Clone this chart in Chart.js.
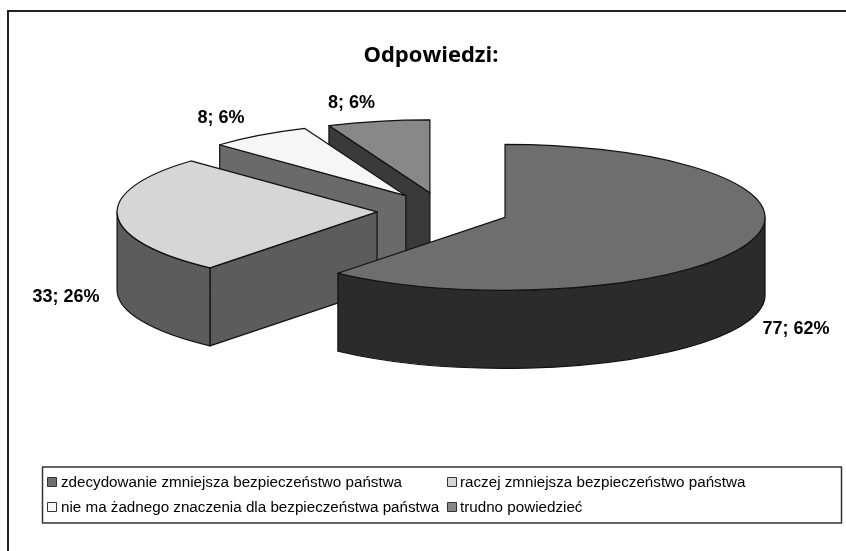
<html>

<head>
    <meta charset="utf-8">
    <script src="https://cdn.jsdelivr.net/npm/chart.js"></script>
    <title>Odpowiedzi</title>
    <style>
        body { margin: 0; background: #fff; }
        canvas { display: block; }
    </style>
</head>

<body>
    <canvas id="myChart" width="846" height="551"></canvas>
    <script>
        // dane
        const categories = [
            'zdecydowanie zmniejsza bezpieczeństwo państwa',
            'raczej zmniejsza bezpieczeństwo państwa',
            'nie ma żadnego znaczenia dla bezpieczeństwa państwa',
            'trudno powiedzieć'
        ];
        const counts = [77, 33, 8, 8];
        const percents = [62, 26, 6, 6];
        const chartTitle = 'Odpowiedzi:';

        const topColors = ['#6e6e6e', '#d6d6d6', '#f6f6f6', '#888888'];
        const sideColors = ['#2b2b2b', '#5c5c5c', '#6a6a6a', '#3a3a3a'];

        const FONT = '"Liberation Sans", Arial, sans-serif';

        // widok 3D: srodek kola, splaszczenie, grubosc i rozsuniecie wycinkow
        const view = { cx: 443, cy: 211, squash: 73 / 260, depth: 78, explode: 66 };
        const labelSpots = [[796, 329], [66, 297], [221, 118], [351.5, 103]];

        function slicePos(el) {
            const mid = (el.startAngle + el.endAngle) / 2;
            return {
                x: view.cx + Math.cos(mid) * view.explode,
                y: view.cy + Math.sin(mid) * view.explode * view.squash
            };
        }

        function paintFace(ctx, fill, build) {
            ctx.beginPath();
            build();
            ctx.closePath();
            ctx.fillStyle = fill;
            ctx.fill();
            ctx.lineWidth = 1.2;
            ctx.strokeStyle = '#111';
            ctx.lineJoin = 'round';
            ctx.stroke();
        }

        function radialFace(ctx, pos, r, angle, fill) {
            const ex = pos.x + Math.cos(angle) * r;
            const ey = pos.y + Math.sin(angle) * r * view.squash;
            paintFace(ctx, fill, () => {
                ctx.moveTo(pos.x, pos.y);
                ctx.lineTo(ex, ey);
                ctx.lineTo(ex, ey + view.depth);
                ctx.lineTo(pos.x, pos.y + view.depth);
            });
        }

        const pie3d = {
            id: 'pie3d',
            beforeDatasetsDraw(chart) {
                const ctx = chart.ctx;
                const arcs = chart.getDatasetMeta(0).data;
                // od tylu do przodu, zeby przednie wycinki przykryly tylne
                for (let i = arcs.length - 1; i >= 0; i--) {
                    const el = arcs[i];
                    const pos = slicePos(el);
                    const r = el.outerRadius;

                    if (Math.cos(el.startAngle) < -0.001) radialFace(ctx, pos, r, el.startAngle, sideColors[i]);
                    if (Math.cos(el.endAngle) > 0.001) radialFace(ctx, pos, r, el.endAngle, sideColors[i]);

                    const a0 = Math.max(el.startAngle, 0);
                    const a1 = Math.min(el.endAngle, Math.PI);
                    if (a1 > a0) {
                        paintFace(ctx, sideColors[i], () => {
                            ctx.ellipse(pos.x, pos.y, r, r * view.squash, 0, a0, a1);
                            ctx.ellipse(pos.x, pos.y + view.depth, r, r * view.squash, 0, a1, a0, true);
                        });
                    }

                    // gorna sciana: sam element Chart.js, tylko w przeksztalconym ukladzie
                    ctx.save();
                    ctx.translate(pos.x, pos.y);
                    ctx.scale(1, view.squash);
                    ctx.translate(-el.x, -el.y);
                    el.draw(ctx);
                    ctx.restore();

                    ctx.beginPath();
                    ctx.moveTo(pos.x, pos.y);
                    ctx.ellipse(pos.x, pos.y, r, r * view.squash, 0, el.startAngle, el.endAngle);
                    ctx.closePath();
                    ctx.lineWidth = 1.2;
                    ctx.strokeStyle = '#111';
                    ctx.lineJoin = 'round';
                    ctx.stroke();
                }
                return false;
            },
            afterDraw(chart) {
                const ctx = chart.ctx;
                ctx.save();

                // ramka: tylko gora i lewa strona
                ctx.fillStyle = '#222';
                ctx.fillRect(7, 10, 839, 2);
                ctx.fillRect(7, 10, 2, 541);

                // etykiety danych
                ctx.fillStyle = '#000';
                ctx.font = 'bold 18px ' + FONT;
                ctx.textAlign = 'center';
                ctx.textBaseline = 'middle';
                counts.forEach((c, i) => {
                    ctx.fillText(c + '; ' + percents[i] + '%', labelSpots[i][0], labelSpots[i][1]);
                });

                // legenda w ramce, dwie kolumny
                ctx.lineWidth = 1.5;
                ctx.strokeStyle = '#333';
                ctx.strokeRect(42.5, 467, 799, 56);
                ctx.font = '15.2px ' + FONT;
                ctx.textAlign = 'left';
                categories.forEach((name, i) => {
                    const x = i % 2 === 0 ? 47 : 447;
                    const y = i < 2 ? 483 : 508;
                    ctx.fillStyle = topColors[i];
                    ctx.strokeStyle = '#333';
                    ctx.lineWidth = 1;
                    ctx.fillRect(x + 0.5, y - 5.5, 9, 9);
                    ctx.strokeRect(x + 0.5, y - 5.5, 9, 9);
                    ctx.fillStyle = '#000';
                    ctx.fillText(name, i % 2 === 0 ? 61 : 460, y);
                });
                ctx.restore();
            }
        };

        new Chart(document.getElementById('myChart'), {
            type: 'pie',
            data: {
                labels: categories,
                datasets: [{
                    data: counts,
                    backgroundColor: topColors,
                    borderWidth: 0,
                    radius: 260
                }]
            },
            options: {
                responsive: false,
                animation: false,
                layout: { padding: { left: 16, top: 43 } },
                plugins: {
                    legend: { display: false },
                    tooltip: { enabled: false },
                    title: {
                        display: true,
                        text: chartTitle,
                        color: '#000',
                        font: { family: '"Open Sans", ' + FONT, size: 22, weight: 'bold' },
                        padding: 0
                    }
                }
            },
            plugins: [pie3d]
        });
    </script>
</body>

</html>
